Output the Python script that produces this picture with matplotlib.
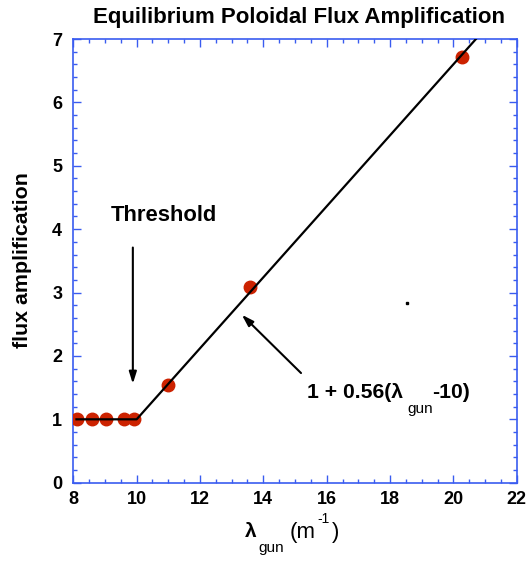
import numpy as np
import matplotlib
matplotlib.use("Agg")
import matplotlib.pyplot as plt
from matplotlib.ticker import MultipleLocator

plt.rcParams['font.family'] = ['Liberation Sans', 'DejaVu Sans']

# Measured equilibrium points
lam_gun = [8.11, 8.58, 9.02, 9.61, 9.93, 10.98, 13.58, 20.27]
flux_amp = [1.0, 1.0, 1.0, 1.0, 1.0, 1.54, 3.09, 6.71]

# Fit: unity below threshold, linear above
threshold = 10.0
slope = 0.56
fit_x = [8.1, threshold, 21.0]

x_ticks = [8, 10, 12, 14, 16, 18, 20, 22]
y_ticks = [0, 1, 2, 3, 4, 5, 6, 7]

W, H = 530, 564
fig = plt.figure(figsize=(W / 100, H / 100), dpi=100)
ax = fig.add_axes([73.3 / W, 1 - 482.7 / H, (516.7 - 73.3) / W, (482.7 - 39) / H])

blue = '#3a5cf0'
for s in ax.spines.values():
    s.set_color(blue)
    s.set_linewidth(1.2)

fit_y = [1 + slope * max(v - threshold, 0) for v in fit_x]
ax.plot(lam_gun, flux_amp, 'o', color='#cc2200', ms=9, mec='#cc2200', zorder=3)
ax.plot(fit_x, fit_y, color='black', lw=1.6, zorder=4)
ax.plot([18.53], [2.84], 's', color='black', ms=1.8, zorder=4)

ax.set_xlim(8, 22)
ax.set_ylim(0, 7)
ax.set_xticks(x_ticks)
ax.set_yticks(y_ticks)
ax.xaxis.set_minor_locator(MultipleLocator(0.5))
ax.yaxis.set_minor_locator(MultipleLocator(0.2))
ax.tick_params(which='both', direction='in', top=True, right=True, color=blue)
ax.tick_params(which='major', length=5.5, width=1.0, labelsize=13)
ax.tick_params(which='minor', length=3, width=1.0)
ax.tick_params(axis='x', which='major', pad=6)
ax.tick_params(axis='y', which='major', pad=8)
for lab in ax.get_xticklabels() + ax.get_yticklabels():
    lab.set_fontweight('bold')

arrow = dict(arrowstyle='-|>,head_length=0.7,head_width=0.22', color='black', lw=1.5,
             shrinkA=0, shrinkB=0)

# Threshold annotation
ax.text(10.85, 4.21, 'Threshold', ha='center', va='center', fontsize=15.8, fontweight='bold')
ax.annotate('', xy=(9.88, 1.56), xytext=(9.88, 3.71), arrowprops=arrow)

# Fit-formula annotation
ax.annotate('', xy=(13.32, 2.65), xytext=(15.19, 1.73), arrowprops=arrow)
t1 = ax.text(15.37, 1.42, '1 + 0.56(\u03bb', ha='left', va='center', fontsize=15.2, fontweight='bold')
t2 = ax.annotate('gun', xy=(1, 0), xycoords=t1, xytext=(3, 0), textcoords='offset points',
                 ha='left', va='top', fontsize=11)
ax.annotate('-10)', xy=(1, 0.5), xycoords=(t2, t1), xytext=(0, 0), textcoords='offset points',
            ha='left', va='center', fontsize=15.2, fontweight='bold')

# Axis labels
fig.text(245 / W, 1 - 537 / H, '\u03bb', ha='left', va='baseline', fontsize=15, fontweight='bold')
fig.text(258 / W, 1 - 552 / H, 'gun', ha='left', va='baseline', fontsize=11)
fig.text(290 / W, 1 - 538 / H, '(m', ha='left', va='baseline', fontsize=16)
fig.text(317 / W, 1 - 523 / H, '-1', ha='left', va='baseline', fontsize=10)
fig.text(332 / W, 1 - 538 / H, ')', ha='left', va='baseline', fontsize=16)

fig.text(23 / W, 1 - 260 / H, 'flux amplification', rotation=90, ha='center', va='center',
         fontsize=15.4, fontweight='bold')
fig.text(299 / W, 1 - 17.5 / H, 'Equilibrium Poloidal Flux Amplification', ha='center',
         va='center', fontsize=16, fontweight='bold')

fig.savefig('out.png', dpi=100)
